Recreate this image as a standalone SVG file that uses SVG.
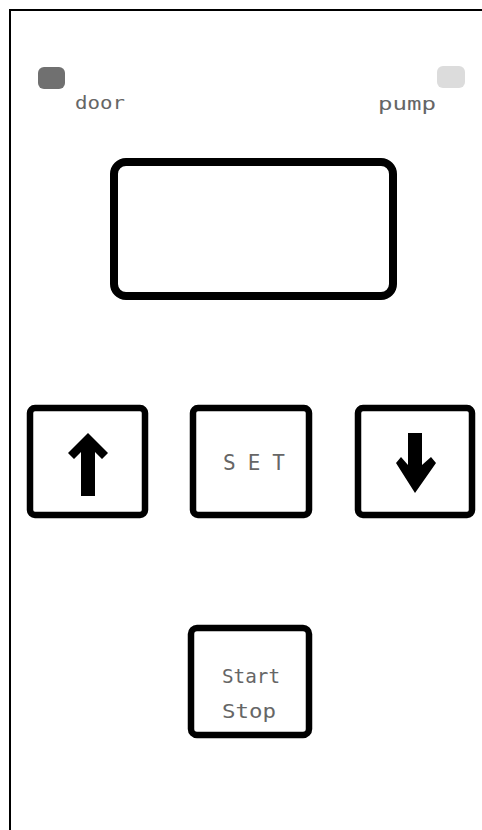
<svg xmlns="http://www.w3.org/2000/svg" width="482" height="830" viewBox="0 0 482 830">
<style>
.frame{fill:#fff;stroke:#000;stroke-width:2}
.btn{fill:#fff;stroke:#000;stroke-width:6.5}
.lbl{font-family:"DejaVu Sans Mono","Liberation Mono",monospace;fill:#666}
.arrow{fill:#000}
</style>
<rect width="482" height="830" fill="#fff"/>
<rect class="frame" x="10" y="10" width="490" height="840"/>
<g id="door">
<rect x="38" y="67" width="27" height="22" rx="6" fill="#707070"/>
<text class="lbl" x="100" y="109" font-size="17" text-anchor="middle" textLength="50" lengthAdjust="spacingAndGlyphs">door</text>
</g>
<g id="pump">
<rect x="437" y="66" width="28" height="22" rx="6" fill="#dcdcdc"/>
<text class="lbl" x="407" y="110" font-size="17" text-anchor="middle" textLength="58" lengthAdjust="spacingAndGlyphs">pump</text>
</g>
<g id="display">
<rect x="114" y="162" width="279" height="134" rx="12" fill="#fff" stroke="#000" stroke-width="8"/>
</g>
<g id="up">
<rect class="btn" x="30" y="408" width="115" height="107" rx="5"/>
<path class="arrow" d="M88 433 L108 453 L102 459 L95 452 V496 H81 V452 L74 459 L68 453 Z"/>
</g>
<g id="set">
<rect class="btn" x="193" y="408" width="116" height="107" rx="5"/>
<text class="lbl" x="254" y="470" font-size="21" text-anchor="middle" fill="#999" textLength="62" lengthAdjust="spacing">SET</text>
</g>
<g id="down">
<rect class="btn" x="358" y="408" width="114" height="107" rx="5"/>
<path class="arrow" d="M408 433 H422 V465 L431 457 L436 463 L415 493 L396 463 L401 457 L408 465 Z"/>
</g>
<g id="startstop">
<rect class="btn" x="191" y="628" width="118" height="107" rx="6"/>
<text class="lbl" x="251" y="683" font-size="19" text-anchor="middle" textLength="58" lengthAdjust="spacingAndGlyphs">Start</text>
<text class="lbl" x="249" y="718" font-size="19" text-anchor="middle" textLength="54" lengthAdjust="spacingAndGlyphs">Stop</text>
</g>
<g id="connectors"/>
</svg>
